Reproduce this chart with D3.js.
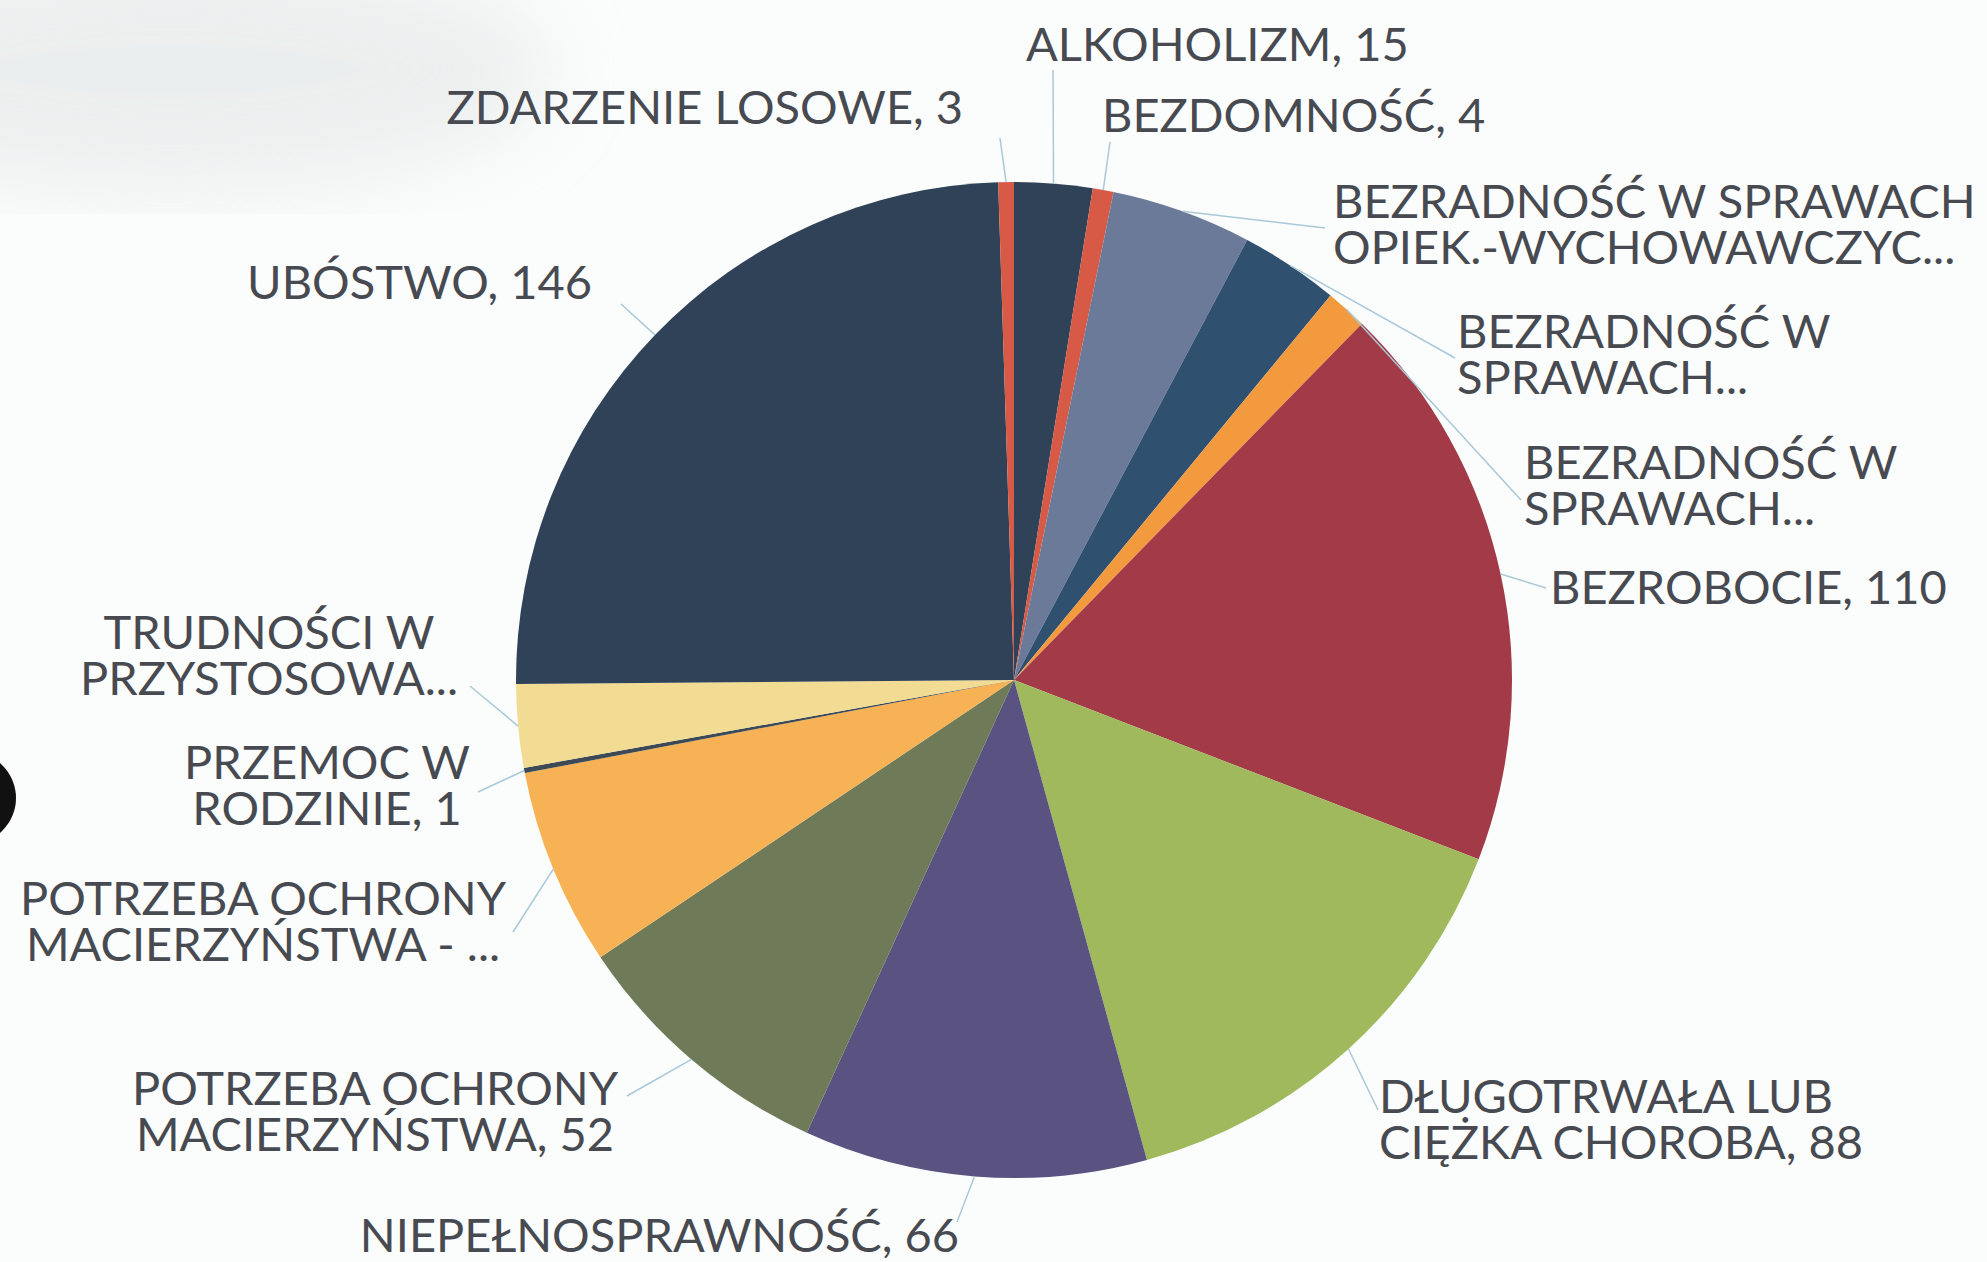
<!DOCTYPE html>
<html lang="pl">
<head>
<meta charset="UTF-8">
<title>Powody przyznania pomocy</title>
<script src="https://d3js.org/d3.v7.min.js"></script>
<style>
  body { margin: 0; background: #fbfcfc; }
  svg { display: block; }
  .label text { font-family: 'Lato', 'Open Sans', sans-serif; font-size: 47px; fill: #474a50; }
  .leader { fill: none; stroke: #a9c9d8; stroke-width: 1.5px; }
</style>
</head>
<body>
<svg></svg>
<script>
// "|" marks the line break, a trailing "..." means the label was cut (no value shown)
const categories = [
  "ALKOHOLIZM",
  "BEZDOMNOŚĆ",
  "BEZRADNOŚĆ W SPRAWACH|OPIEK.-WYCHOWAWCZYC...",
  "BEZRADNOŚĆ W|SPRAWACH...",
  "BEZRADNOŚĆ W|SPRAWACH...",
  "BEZROBOCIE",
  "DŁUGOTRWAŁA LUB|CIĘŻKA CHOROBA",
  "NIEPEŁNOSPRAWNOŚĆ",
  "POTRZEBA OCHRONY|MACIERZYŃSTWA",
  "POTRZEBA OCHRONY|MACIERZYŃSTWA - ...",
  "PRZEMOC W|RODZINIE",
  "TRUDNOŚCI W|PRZYSTOSOWA...",
  "UBÓSTWO",
  "ZDARZENIE LOSOWE"
];
const values = [15, 4, 27, 19, 8, 110, 88, 66, 52, 38, 1, 16, 146, 3];

const colors = ["#2f4257", "#d65a45", "#6b7a99", "#30506f", "#f39a3f", "#a23b47",
                "#a0b95c", "#5a5280", "#6f7b58", "#f6b254", "#3d4a55", "#f2dc93"];

// label placement: text x, first baseline, anchor, leader end x, leader end y
const labelLayout = [
  [1026,   61, "start",  1053,   70],
  [1102,  132, "start",  1110,  142],
  [1333,  218, "start",  1325,  228],
  [1457,  348, "start",  1455,  358],
  [1524,  479, "start",  1521,  500],
  [1550,  604, "start",  1546,  588],
  [1379, 1113, "start",  1378, 1110],
  [ 959, 1252, "end",     957, 1222],
  [ 375, 1105, "middle",  627, 1096],
  [ 263,  915, "middle",  513,  932],
  [ 327,  779, "middle",  478,  792],
  [ 269,  649, "middle",  470,  686],
  [ 592,  299, "end",     621,  304],
  [ 963,  124, "end",    1000,  138]
];

const width = 1987, height = 1262;
const cx = 1014, cy = 680, radius = 498;
const lineGap = 46;

const svg = d3.select("svg").attr("width", width).attr("height", height);

// scanner artefacts of the source picture
const defs = svg.append("defs");
defs.append("filter").attr("id", "soft")
  .append("feGaussianBlur").attr("stdDeviation", 40);
svg.append("ellipse")
  .attr("cx", 170).attr("cy", 70).attr("rx", 380).attr("ry", 120)
  .attr("fill", "#dde2e1").attr("opacity", 0.5).attr("filter", "url(#soft)");
svg.append("circle")
  .attr("cx", -30).attr("cy", 798).attr("r", 46).attr("fill", "#111");

const color = d3.scaleOrdinal().domain(d3.range(values.length)).range(colors);

const pie = d3.pie().sort(null).value(d => d.value);
const arcs = pie(values.map((v, i) => ({ name: categories[i], value: v, i })));

const arc = d3.arc().innerRadius(0).outerRadius(radius);
const edge = d3.arc().innerRadius(radius).outerRadius(radius);

const g = svg.append("g").attr("transform", `translate(${cx},${cy})`);

g.selectAll("path.slice")
  .data(arcs)
  .join("path")
  .attr("class", "slice")
  .attr("d", arc)
  .attr("fill", d => color(d.data.i));

// leader lines from the slice rim to the label
svg.selectAll("line.leader")
  .data(arcs)
  .join("line")
  .attr("class", "leader")
  .attr("x1", d => cx + edge.centroid(d)[0])
  .attr("y1", d => cy + edge.centroid(d)[1])
  .attr("x2", d => labelLayout[d.data.i][3])
  .attr("y2", d => labelLayout[d.data.i][4]);

const labels = svg.selectAll("g.label")
  .data(arcs)
  .join("g")
  .attr("class", "label")
  .attr("transform", d => `translate(${labelLayout[d.data.i][0]},${labelLayout[d.data.i][1]})`);

labels.append("text")
  .attr("text-anchor", d => labelLayout[d.data.i][2])
  .each(function (d) {
    const lines = d.data.name.split("|");
    const last = lines.length - 1;
    if (!lines[last].endsWith("...")) lines[last] += ", " + d.data.value;
    d3.select(this).selectAll("tspan")
      .data(lines)
      .join("tspan")
      .attr("x", 0)
      .attr("y", (t, k) => k * lineGap)
      .text(t => t);
  });
</script>
</body>
</html>
